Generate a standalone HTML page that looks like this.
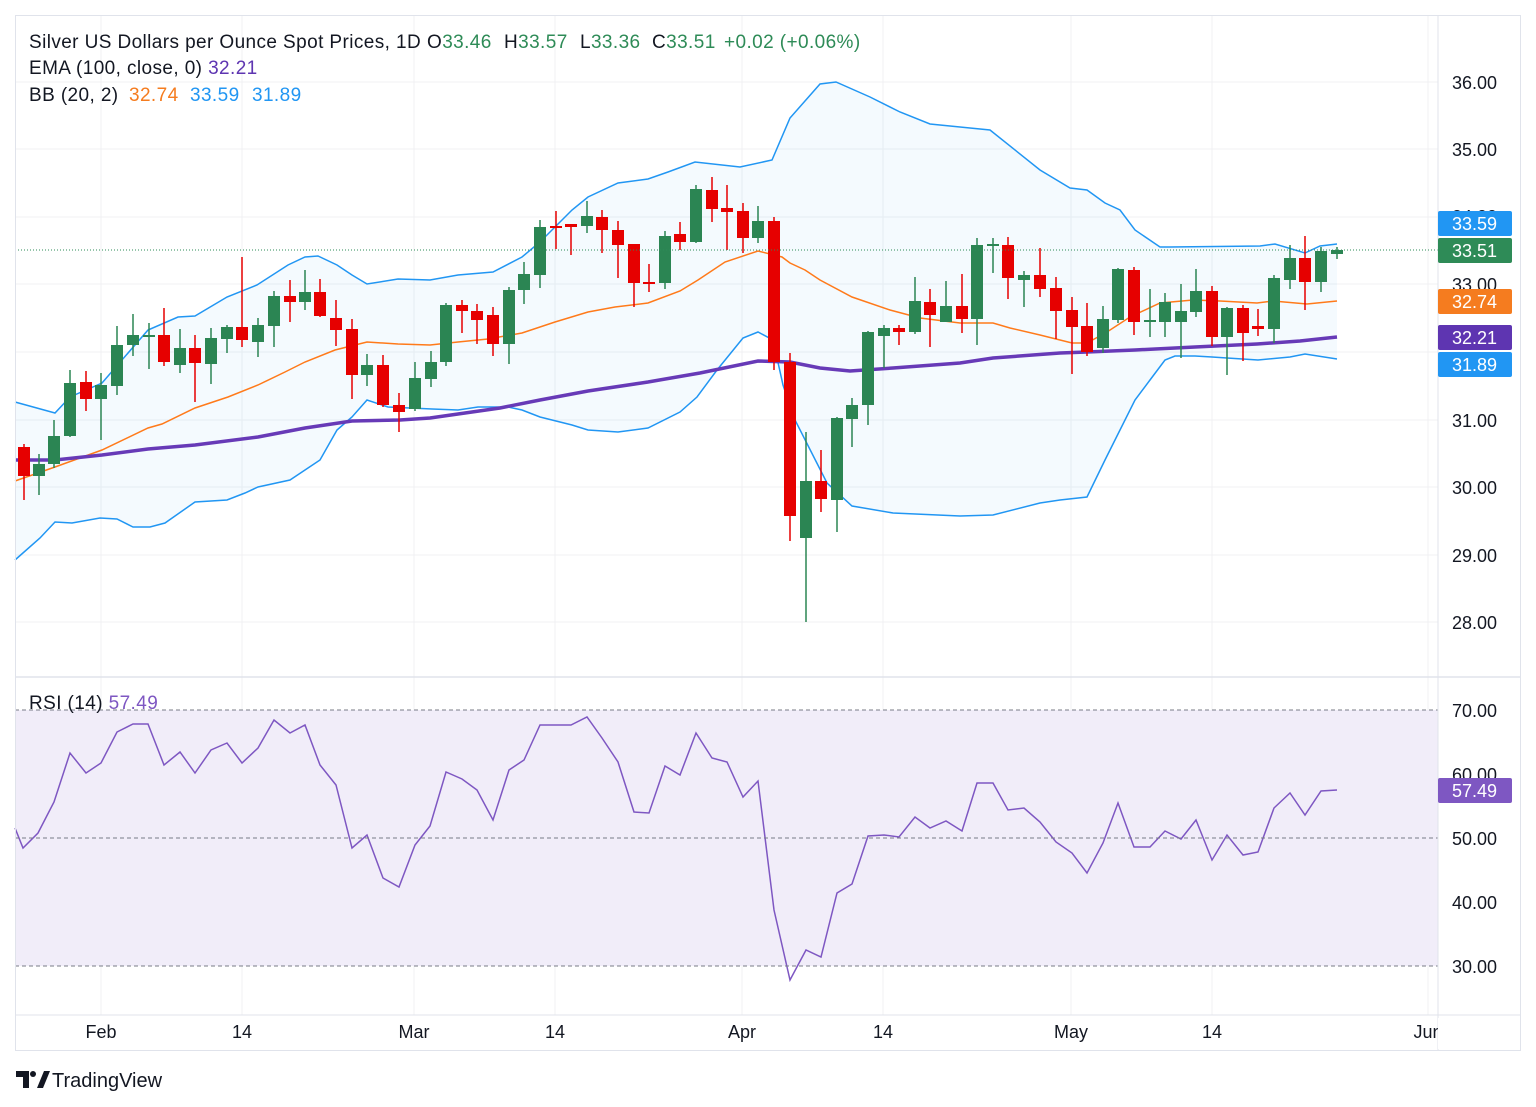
<!DOCTYPE html>
<html><head><meta charset="utf-8">
<style>
html,body{margin:0;padding:0;background:#fff;}
body{width:1536px;height:1107px;overflow:hidden;font-family:"Liberation Sans",sans-serif;}
svg{position:absolute;left:0;top:0;}
</style></head>
<body>
<svg id="c" width="1536" height="1107" viewBox="0 0 1536 1107" xmlns="http://www.w3.org/2000/svg" font-family="Liberation Sans, sans-serif">
<rect x="0" y="0" width="1536" height="1107" fill="#fff"/>
<g id="grid" stroke="#f0f1f3" stroke-width="1"></g>
<rect x="15" y="710" width="1423" height="256" fill="#f1edf9"/>
<g id="bands"></g>
<g id="candles"></g>
<g id="rsi"></g>
<line x1="15" y1="250" x2="1438" y2="250" stroke="#2e8b57" stroke-width="1" stroke-dasharray="1,2"/>
<line x1="15" y1="710" x2="1438" y2="710" stroke="#787b86" stroke-dasharray="4,3" stroke-width="1"/>
<line x1="15" y1="838" x2="1438" y2="838" stroke="#787b86" stroke-dasharray="4,3" stroke-width="1"/>
<line x1="15" y1="966" x2="1438" y2="966" stroke="#787b86" stroke-dasharray="4,3" stroke-width="1"/>
<line x1="15" y1="677" x2="1520" y2="677" stroke="#e0e3eb" stroke-width="1.5"/>
<line x1="1438" y1="15" x2="1438" y2="1050" stroke="#e0e3eb" stroke-width="1"/>
<rect x="15.5" y="15.5" width="1505" height="1035" fill="none" stroke="#e0e3eb" stroke-width="1"/>
<line x1="15" y1="1015" x2="1520" y2="1015" stroke="#e0e3eb" stroke-width="1"/>
<g font-size="18" fill="#131722">
<text x="1452" y="89">36.00</text>
<text x="1452" y="156">35.00</text>
<text x="1452" y="223">34.00</text>
<text x="1452" y="291">33.00</text>
<text x="1452" y="427">31.00</text>
<text x="1452" y="494">30.00</text>
<text x="1452" y="562">29.00</text>
<text x="1452" y="629">28.00</text>
<text x="1452" y="717">70.00</text>
<text x="1452" y="781">60.00</text>
<text x="1452" y="845">50.00</text>
<text x="1452" y="909">40.00</text>
<text x="1452" y="973">30.00</text>
</g>
<g font-size="18" fill="#fff">
<rect x="1438" y="211" width="74" height="25" rx="2" fill="#2196f3"/><text x="1452" y="230">33.59</text>
<rect x="1438" y="238" width="74" height="25" rx="2" fill="#2e8b57"/><text x="1452" y="257">33.51</text>
<rect x="1438" y="289" width="74" height="25" rx="2" fill="#f57c1f"/><text x="1452" y="308">32.74</text>
<rect x="1438" y="325" width="74" height="25" rx="2" fill="#5e35b1"/><text x="1452" y="344">32.21</text>
<rect x="1438" y="352" width="74" height="25" rx="2" fill="#2196f3"/><text x="1452" y="371">31.89</text>
<rect x="1438" y="778" width="74" height="25" rx="2" fill="#7e57c2"/><text x="1452" y="797">57.49</text>
</g>
<g font-size="18" fill="#131722" text-anchor="middle">
<text x="101" y="1038">Feb</text>
<text x="242" y="1038">14</text>
<text x="414" y="1038">Mar</text>
<text x="555" y="1038">14</text>
<text x="742" y="1038">Apr</text>
<text x="883" y="1038">14</text>
<text x="1071" y="1038">May</text>
<text x="1212" y="1038">14</text>
<text x="1428" y="1038">Jun</text>
</g>
<rect x="1438" y="1018" width="82" height="31" fill="#fff"/>
<g font-size="19" letter-spacing="0.4">
<text x="29" y="48" fill="#131722">Silver US Dollars per Ounce Spot Prices, 1D</text>
<text x="427" y="48" fill="#131722">O<tspan fill="#2e8b57">33.46</tspan></text>
<text x="504" y="48" fill="#131722">H<tspan fill="#2e8b57">33.57</tspan></text>
<text x="580" y="48" fill="#131722">L<tspan fill="#2e8b57">33.36</tspan></text>
<text x="652" y="48" fill="#131722">C<tspan fill="#2e8b57">33.51</tspan></text>
<text x="724" y="48" fill="#2e8b57">+0.02 (+0.06%)</text>
<text x="29" y="74" fill="#131722">EMA (100, close, 0) <tspan fill="#5e35b1">32.21</tspan></text>
<text x="29" y="101" fill="#131722">BB (20, 2)<tspan fill="#f57c1f" x="129">32.74</tspan><tspan fill="#2196f3" x="190">33.59</tspan><tspan fill="#2196f3" x="252">31.89</tspan></text>
<text x="29" y="709" fill="#131722">RSI (14) <tspan fill="#7e57c2">57.49</tspan></text>
</g>
<g>
<text x="52" y="1087" font-size="20" fill="#131722">TradingView</text>
<path d="M16 1071h13v17h-6v-11h-7z" fill="#131722"/>
<circle cx="33" cy="1074" r="3" fill="#131722"/>
<path d="M37 1088l7-17h6l-7 17z" fill="#131722"/>
</g>
</svg>
<script>
const NS="http://www.w3.org/2000/svg";
function el(p,t,a){const e=document.createElementNS(NS,t);for(const k in a)e.setAttribute(k,a[k]);p.appendChild(e);return e;}
const g=document.getElementById('grid');
[101,242,414,555,742,883,1071,1212,1428].forEach(x=>el(g,'line',{x1:x,y1:15,x2:x,y2:1015}));
[82,149,217,284,352,420,487,555,622,774,902].forEach(y=>el(g,'line',{x1:15,y1:y,x2:1438,y2:y}));
const up=[[15,402],[55,413],[70,397],[102,383],[115,368],[148,330],[178,317],[195,316],[227,297],[257,285],[288,265],[305,257],[318,256],[337,265],[352,275],[367,284],[398,279],[430,280],[458,275],[493,272],[522,257],[540,242],[572,210],[588,197],[618,183],[648,179],[668,172],[695,162],[740,167],[772,160],[790,118],[820,84],[836,82],[870,97],[900,112],[930,124],[990,130],[1040,170],[1070,188],[1087,190],[1105,203],[1120,210],[1135,230],[1160,247],[1170,247],[1260,246],[1275,244],[1305,253],[1320,246],[1337,244]];
const lo=[[15,560],[40,538],[55,522],[72,523],[100,518],[117,519],[133,527],[150,527],[165,523],[195,502],[227,500],[245,493],[258,487],[290,480],[320,460],[337,430],[352,417],[367,400],[388,407],[432,409],[458,410],[478,407],[508,407],[522,410],[540,417],[572,425],[588,430],[618,432],[648,428],[680,412],[697,397],[717,370],[743,338],[758,332],[773,340],[783,385],[795,420],[827,483],[852,506],[893,513],[960,516],[993,515],[1040,503],[1060,500],[1087,497],[1105,460],[1120,430],[1135,400],[1150,380],[1165,360],[1175,356],[1195,356],[1212,357],[1227,358],[1258,360],[1290,357],[1305,354],[1337,359]];
const mid=[[15,481],[55,467],[102,450],[148,428],[162,424],[195,408],[228,397],[258,385],[285,372],[305,362],[335,350],[355,345],[367,342],[398,344],[430,345],[458,342],[488,339],[522,333],[555,322],[588,312],[615,307],[648,303],[680,291],[698,280],[725,262],[758,251],[782,257],[790,263],[805,270],[820,280],[852,297],[890,310],[920,318],[960,323],[993,323],[1010,328],[1040,335],[1072,343],[1087,343],[1107,332],[1130,317],[1160,303],[1193,300],[1220,301],[1257,303],[1273,301],[1307,304],[1337,301]];
const ema=[[15,460],[55,460],[102,455],[148,449],[195,445],[258,437],[305,428],[352,421],[400,420],[430,418],[500,408],[540,400],[588,391],[648,382],[700,373],[758,361],[790,362],[820,368],[850,371],[893,368],[960,363],[993,358],[1060,353],[1087,352],[1135,350],[1195,347],[1257,344],[1300,341],[1337,337]];
const pts=a=>a.map(p=>p.join(',')).join(' ');
const b=document.getElementById('bands');
el(b,'polygon',{points:pts(up)+' '+pts(lo.slice().reverse()),fill:'#2196f3','fill-opacity':'0.05'});
el(b,'polyline',{points:pts(up),fill:'none',stroke:'#2196f3','stroke-width':1.5});
el(b,'polyline',{points:pts(lo),fill:'none',stroke:'#2196f3','stroke-width':1.5});
el(b,'polyline',{points:pts(mid),fill:'none',stroke:'#ff7a1a','stroke-width':1.5});
el(b,'polyline',{points:pts(ema),fill:'none',stroke:'#673ab7','stroke-width':3.5});
const C=[[24,447,476,444,500],[39,476,464,454,495],[54,464,436,420,468],[70,436,383,370,437],[86,382,399,371,411],[101,399,385,373,440],[117,386,345,326,395],[133,345,335,314,356],[149,336,335,323,369],[164,335,362,308,366],[180,365,348,329,373],[195,348,363,335,402],[211,364,338,328,384],[227,339,327,325,353],[242,327,340,257,347],[258,342,325,318,357],[274,326,296,291,347],[290,296,302,280,322],[305,302,292,270,310],[320,292,316,279,317],[336,318,330,300,346],[352,329,375,319,399],[367,375,365,354,386],[383,365,405,355,407],[399,405,412,393,432],[415,409,378,362,411],[431,379,362,351,387],[446,362,305,303,366],[462,305,311,300,333],[477,311,320,304,344],[493,315,344,307,356],[509,344,290,287,364],[524,290,274,262,304],[540,275,227,220,288],[556,226,228,211,249],[571,224,227,224,255],[587,226,216,201,233],[602,217,230,210,253],[618,230,245,221,278],[634,244,283,244,307],[649,282,283,264,292],[665,283,236,231,289],[680,234,242,222,250],[696,242,189,185,243],[712,190,209,177,222],[727,208,212,185,250],[743,211,238,203,253],[758,238,221,206,243],[774,221,362,217,370],[790,362,516,353,541],[806,538,481,432,622],[821,481,499,450,512],[837,500,418,417,532],[852,419,405,398,447],[868,405,332,331,425],[884,336,328,325,368],[899,328,332,325,345],[915,332,301,277,334],[930,302,315,289,347],[946,322,306,281,322],[962,306,319,274,333],[977,319,245,238,345],[993,245,244,238,273],[1008,245,278,237,299],[1024,280,275,271,307],[1040,275,289,248,297],[1056,288,311,277,339],[1072,310,327,297,374],[1087,326,352,303,356],[1103,348,319,306,353],[1118,320,269,268,323],[1134,270,322,267,335],[1150,321,320,289,337],[1165,322,302,293,337],[1181,322,311,284,358],[1196,312,291,269,317],[1212,291,337,286,346],[1227,337,308,307,375],[1243,308,333,305,361],[1258,326,329,309,336],[1274,329,278,275,343],[1290,280,258,245,289],[1305,258,282,236,310],[1321,282,251,247,292],[1337,254,250,247,259]];
const cg=document.getElementById('candles');
C.forEach(([x,o,c,h,l])=>{
 const col=(c<o)?'#2b8553':'#e60000';
 el(cg,'line',{x1:x,y1:h,x2:x,y2:l,stroke:col,'stroke-width':1.5});
 const t=Math.min(o,c),hh=Math.max(2,Math.abs(o-c));
 el(cg,'rect',{x:x-6,y:t,width:12,height:hh,fill:col});
});
const R=[[15,828],[23,848],[38,833],[54,802],[70,753],[86,773],[101,763],[117,732],[133,724],[148,724],[164,765],[180,752],[195,773],[211,750],[227,743],[242,763],[258,748],[274,720],[290,733],[305,725],[320,765],[336,785],[352,848],[367,835],[383,878],[399,887],[415,845],[430,826],[446,772],[462,779],[477,790],[493,820],[509,770],[524,760],[540,725],[556,725],[571,725],[587,717],[602,738],[618,762],[634,812],[649,813],[665,766],[680,775],[696,733],[712,758],[727,762],[743,797],[758,781],[774,910],[790,980],[806,950],[821,957],[837,893],[852,884],[868,836],[884,835],[899,837],[915,817],[930,828],[946,821],[962,831],[977,783],[993,783],[1008,810],[1024,808],[1040,822],[1056,842],[1072,853],[1087,873],[1103,843],[1118,803],[1134,847],[1150,847],[1165,831],[1181,839],[1196,820],[1212,860],[1227,835],[1243,855],[1258,852],[1274,808],[1290,793],[1305,815],[1321,791],[1337,790]];
el(document.getElementById('rsi'),'polyline',{points:pts(R),fill:'none',stroke:'#7e57c2','stroke-width':1.5});
</script>
</body></html>
